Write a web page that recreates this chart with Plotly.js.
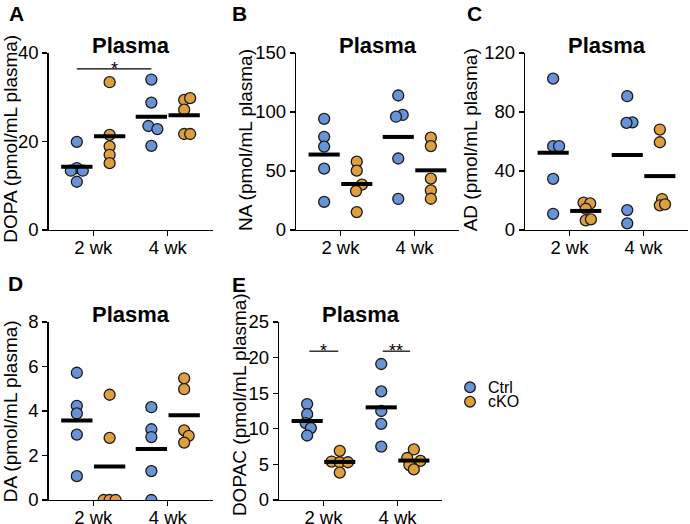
<!DOCTYPE html>
<html><head><meta charset="utf-8">
<script src="https://cdn.plot.ly/plotly-3.0.1.min.js"></script>
<style>html,body{margin:0;padding:0;background:#fff}#chart{width:690px;height:524px}</style>
</head><body><div id="chart"></div>
<script>
// ---------- data ----------
const groups = ['2 wk', '4 wk'];
const seriesNames = ['Ctrl', 'cKO'];
const panelLetters = ['A', 'B', 'C', 'D', 'E'];
const panelTitle = 'Plasma';
const yTitles = ['DOPA (pmol/mL plasma)', 'NA (pmol/mL plasma)', 'AD (pmol/mL plasma)',
                 'DA (pmol/mL plasma)', 'DOPAC (pmol/mL plasma)'];
const yMax = [40, 150, 120, 8, 25];
const yStep = [20, 50, 40, 2, 5];

// values per group [2 wk, 4 wk]
const dopaCtrl  = [[19.9, 14.0, 13.4, 13.4, 10.9], [34.0, 28.8, 23.5, 22.8, 19.0]];
const dopaCko   = [[33.4, 21.5, 18.9, 17.0, 15.1], [29.4, 29.8, 27.2, 21.7, 21.7]];
const naCtrl    = [[94.2, 79.0, 70.7, 52.0, 23.8], [114.0, 97.5, 96.0, 60.6, 26.3]];
const naCko     = [[57.9, 50.3, 38.5, 33.0, 15.2], [78.2, 71.1, 43.5, 33.5, 26.5]];
const adCtrl    = [[102.6, 56.8, 56.8, 34.7, 11.0], [90.7, 73.0, 72.6, 13.5, 4.5]];
const adCko     = [[18.5, 18.0, 14.4, 6.5, 7.2], [68.1, 59.5, 21.0, 16.7, 17.4]];
const daCtrl    = [[5.72, 4.23, 3.89, 2.94, 1.07], [4.17, 3.18, 2.83, 1.30, 0]];
const daCko     = [[4.73, 2.79, 0, 0, 0], [5.47, 4.98, 3.13, 2.88, 2.58]];
const dopacCtrl = [[13.47, 12.06, 10.8, 10.1, 9.06], [19.1, 15.26, 12.5, 10.7, 7.5]];
const dopacCko  = [[6.9, 5.4, 5.3, 5.3, 3.85], [7.1, 5.9, 5.5, 4.9, 4.3]];

// horizontal scatter of overlapping dots (category units)
const dopaCtrlJit  = [[0, 0, -0.08, 0.08, 0], [0, 0, -0.04, 0.08, 0]];
const dopaCkoJit   = [[0, 0, 0, 0, 0], [0, 0.08, 0, 0, 0.08]];
const naCtrlJit    = [[0, 0, 0, 0, 0], [0, 0.06, -0.03, 0, 0]];
const naCkoJit     = [[0, 0, 0.07, -0.01, 0], [0, 0, 0, 0, 0]];
const adCtrlJit    = [[0, 0, 0.08, 0, 0], [0, 0.07, -0.01, 0, 0]];
const adCkoJit     = [[-0.03, 0.06, 0, 0, 0.07], [0, 0, 0.03, 0, 0.07]];
const daCtrlJit    = [[0, 0, 0, 0, 0], [0, 0, 0, 0, 0]];
const daCkoJit     = [[0, 0, -0.08, 0, 0.08], [0, 0, 0, 0.06, 0]];
const dopacCtrlJit = [[0, 0, -0.02, 0.05, 0], [0, 0, 0, 0, 0]];
const dopacCkoJit  = [[0, -0.11, 0, 0.11, 0], [0, -0.09, 0.09, -0.06, 0]];

// significance marks
const sigA = {label: '*', y: 36.4};
const sigE = [{label: '*', y: 20.9}, {label: '**', y: 20.9}];

// ---------- layout helpers ----------
const W = 690, H = 524;
const px = x => x / W;
const py = y => 1 - y / H;
const colors = ['#6893d6', '#e09f3e'];
const FONT = '"Liberation Sans", Arial, sans-serif';
const OFF = [-0.22, 0.22];

// plot boxes in pixels: [left, right, top, bottom]
const boxes = [
  [48.5, 212.5, 53, 230],
  [296, 459, 53, 230],
  [525, 688, 53, 230],
  [48.5, 212.5, 322, 500],
  [279, 442, 322, 500]
];
const yTitlePos = [[9.8, 139], [245, 140], [470.3, 140], [10.3, 411], [239.6, 404.5]];
const letterPos = [[16.5, 13.8], [239.5, 13.8], [474.5, 13.8], [15.5, 283.8], [238.5, 284.2]];

const panels = [
  [dopaCtrl, dopaCko, dopaCtrlJit, dopaCkoJit],
  [naCtrl, naCko, naCtrlJit, naCkoJit],
  [adCtrl, adCko, adCtrlJit, adCkoJit],
  [daCtrl, daCko, daCtrlJit, daCkoJit],
  [dopacCtrl, dopacCko, dopacCtrlJit, dopacCkoJit]
];

const traces = [];
const layout = {
  width: W, height: H,
  margin: {l: 0, r: 0, t: 0, b: 0},
  paper_bgcolor: '#fff', plot_bgcolor: 'rgba(0,0,0,0)',
  showlegend: false,
  font: {family: FONT, color: '#000', size: 16},
  annotations: [], shapes: []
};

const mean = a => a.reduce((s, v) => s + v, 0) / a.length;

panels.forEach((p, i) => {
  const n = i + 1;
  const xa = 'x' + (n === 1 ? '' : n), ya = 'y' + (n === 1 ? '' : n);
  const b = boxes[i];
  layout['xaxis' + (n === 1 ? '' : n)] = {
    domain: [px(b[0]), px(b[1])], anchor: ya, range: [0.4, 2.6],
    tickvals: [1, 2], ticktext: groups, ticks: 'outside', ticklen: 5, tickwidth: 1.3,
    tickcolor: '#000', showline: true, linecolor: '#000', linewidth: 1.3,
    showgrid: false, zeroline: false, fixedrange: true, ticklabelstandoff: -5,
    tickfont: {family: FONT, size: 18.5, color: '#000'}
  };
  layout['yaxis' + (n === 1 ? '' : n)] = {
    domain: [py(b[3]), py(b[2])], anchor: xa, range: [0, yMax[i]], dtick: yStep[i], tick0: 0,
    ticks: 'outside', ticklen: 5, tickwidth: 1.3, tickcolor: '#000',
    showline: true, linecolor: '#000', linewidth: 1.3,
    showgrid: false, zeroline: false, fixedrange: true,
    tickfont: {family: FONT, size: 18.5, color: '#000'}
  };
  // dots
  for (let s = 0; s < 2; s++) {
    const ser = p[s], jit = p[s + 2];
    const xs = [], ys = [];
    ser.forEach((vals, g) => vals.forEach((v, k) => { xs.push(g + 1 + OFF[s] + jit[g][k]); ys.push(v); }));
    traces.push({
      type: 'scatter', mode: 'markers', x: xs, y: ys, xaxis: xa, yaxis: ya,
      name: seriesNames[s], hoverinfo: 'skip', cliponaxis: true,
      marker: {size: 11, color: colors[s], line: {color: '#1a1a1a', width: 1.3}}
    });
  }
  // mean lines
  for (let s = 0; s < 2; s++) {
    p[s].forEach((vals, g) => {
      const c = g + 1 + OFF[s], m = mean(vals);
      traces.push({
        type: 'scatter', mode: 'lines', x: [c - 0.21, c + 0.21], y: [m, m],
        xaxis: xa, yaxis: ya, hoverinfo: 'skip', showlegend: false,
        line: {color: '#000', width: 4}
      });
    });
  }
  // titles
  layout.annotations.push({
    xref: 'paper', yref: 'paper', x: px((b[0] + b[1]) / 2), y: py(b[2] - 7.6),
    xanchor: 'center', yanchor: 'middle', showarrow: false,
    text: '<b>' + panelTitle + '</b>', font: {family: FONT, size: 22, color: '#000'}
  });
  layout.annotations.push({
    xref: 'paper', yref: 'paper', x: px(letterPos[i][0]), y: py(letterPos[i][1]),
    xanchor: 'center', yanchor: 'middle', showarrow: false,
    text: '<b>' + panelLetters[i] + '</b>', font: {family: FONT, size: 21, color: '#000'}
  });
  layout.annotations.push({
    xref: 'paper', yref: 'paper', x: px(yTitlePos[i][0]), y: py(yTitlePos[i][1]),
    xanchor: 'center', yanchor: 'middle', showarrow: false, textangle: -90,
    text: yTitles[i], font: {family: FONT, size: 19, color: '#000'}
  });
});

// significance bars
function sigBar(n, x0, x1, y, label) {
  const xa = 'x' + (n === 1 ? '' : n), ya = 'y' + (n === 1 ? '' : n);
  traces.push({type: 'scatter', mode: 'lines', x: [x0, x1], y: [y, y], xaxis: xa, yaxis: ya,
    hoverinfo: 'skip', line: {color: '#000', width: 1.2}});
  layout.annotations.push({xref: xa, yref: ya, x: (x0 + x1) / 2, y: y, xanchor: 'center', yanchor: 'middle',
    showarrow: false, text: label, font: {family: FONT, size: 18, color: '#000'}});
}
sigBar(1, 1 + OFF[0], 2 + OFF[0], sigA.y, sigA.label);
sigBar(5, 1 - 0.19, 1 + 0.2, sigE[0].y, sigE[0].label);
sigBar(5, 2 - 0.2, 2 + 0.17, sigE[1].y, sigE[1].label);

// legend
const legendY = [387.3, 401.7];
seriesNames.forEach((name, s) => {
  layout.shapes.push({
    type: 'circle', xref: 'paper', yref: 'paper', xsizemode: 'pixel', ysizemode: 'pixel',
    xanchor: px(470), yanchor: py(legendY[s]), x0: -5.3, x1: 5.3, y0: -5.3, y1: 5.3,
    fillcolor: colors[s], line: {color: '#1a1a1a', width: 1.3}
  });
  layout.annotations.push({
    xref: 'paper', yref: 'paper', x: px(485.5), y: py(legendY[s]), xanchor: 'left', yanchor: 'middle',
    showarrow: false, text: name, font: {family: FONT, size: 16, color: '#000'}
  });
});

Plotly.newPlot('chart', traces, layout, {staticPlot: true, displayModeBar: false});
</script>
</body></html>
